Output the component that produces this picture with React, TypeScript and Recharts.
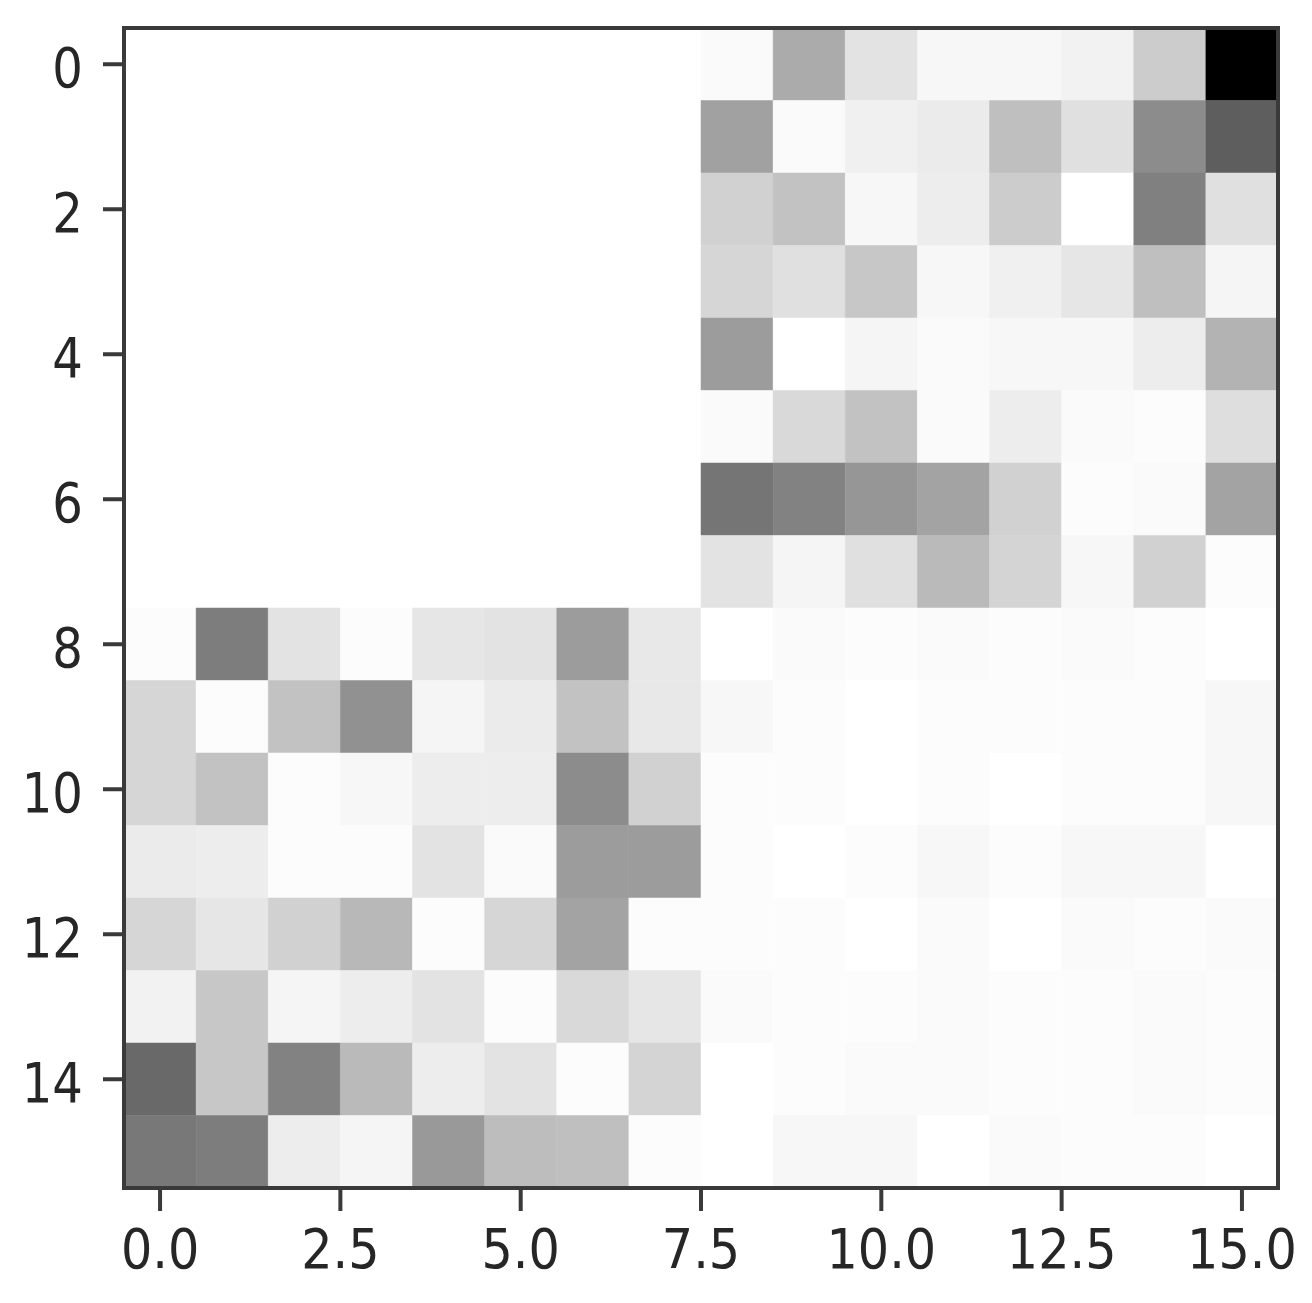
import React from 'react';
import { ScatterChart, Scatter, XAxis, YAxis, ReferenceArea } from 'recharts';

// Cell darkness (0 = white, 1 = black), rows 0..15, columns 0..15
const row00 = [0, 0, 0, 0, 0, 0, 0, 0, 0.02, 0.33, 0.11, 0.03, 0.03, 0.05, 0.2, 1.0];
const row01 = [0, 0, 0, 0, 0, 0, 0, 0, 0.37, 0.02, 0.06, 0.08, 0.25, 0.12, 0.45, 0.63];
const row02 = [0, 0, 0, 0, 0, 0, 0, 0, 0.18, 0.24, 0.03, 0.07, 0.2, 0.0, 0.5, 0.12];
const row03 = [0, 0, 0, 0, 0, 0, 0, 0, 0.16, 0.12, 0.22, 0.03, 0.06, 0.1, 0.25, 0.04];
const row04 = [0, 0, 0, 0, 0, 0, 0, 0, 0.39, 0.0, 0.04, 0.02, 0.03, 0.03, 0.07, 0.3];
const row05 = [0, 0, 0, 0, 0, 0, 0, 0, 0.02, 0.15, 0.24, 0.02, 0.07, 0.02, 0.01, 0.13];
const row06 = [0, 0, 0, 0, 0, 0, 0, 0, 0.54, 0.49, 0.41, 0.36, 0.18, 0.01, 0.02, 0.36];
const row07 = [0, 0, 0, 0, 0, 0, 0, 0, 0.11, 0.04, 0.12, 0.27, 0.17, 0.03, 0.18, 0.01];
const row08 = [0.01, 0.51, 0.11, 0.01, 0.1, 0.11, 0.39, 0.09, 0, 0.02, 0.01, 0.02, 0.01, 0.02, 0.01, 0];
const row09 = [0.16, 0.01, 0.24, 0.43, 0.04, 0.08, 0.24, 0.09, 0.03, 0.01, 0, 0.01, 0.01, 0.01, 0.01, 0.03];
const row10 = [0.16, 0.24, 0.01, 0.03, 0.07, 0.07, 0.45, 0.18, 0.01, 0.01, 0, 0.01, 0, 0.01, 0.01, 0.03];
const row11 = [0.08, 0.07, 0.01, 0.01, 0.11, 0.02, 0.39, 0.39, 0.01, 0, 0.01, 0.03, 0.01, 0.03, 0.03, 0];
const row12 = [0.16, 0.1, 0.18, 0.28, 0.01, 0.16, 0.36, 0.01, 0.01, 0.01, 0, 0.02, 0, 0.02, 0.01, 0.02];
const row13 = [0.05, 0.22, 0.04, 0.07, 0.11, 0.01, 0.15, 0.1, 0.02, 0.01, 0.01, 0.02, 0.01, 0.01, 0.02, 0.01];
const row14 = [0.59, 0.22, 0.49, 0.27, 0.07, 0.11, 0.01, 0.17, 0, 0.01, 0.02, 0.02, 0.01, 0.01, 0.02, 0.01];
const row15 = [0.53, 0.51, 0.07, 0.04, 0.4, 0.26, 0.25, 0.01, 0, 0.03, 0.03, 0, 0.02, 0.01, 0.01, 0];

const matrix = [row00, row01, row02, row03, row04, row05, row06, row07, row08, row09, row10, row11, row12, row13, row14, row15];

const xTicks = [0, 2.5, 5, 7.5, 10, 12.5, 15];
const yTicks = [0, 2, 4, 6, 8, 10, 12, 14];
const domain: [number, number] = [-0.5, 15.5];

const cells = matrix.flatMap((row, r) => row.map((v, c) => ({ x: c, y: r, v })));

const grayOf = (v: number) => {
  const g = Math.round(255 * (1 - v));
  return `rgb(${g},${g},${g})`;
};

const FONT = "'DejaVu Sans', sans-serif";
const TEXT = '#262626';
const LINE = '#3a3a3a';

const XTick = (props: any) => {
  const { x, y, payload } = props;
  return (
    <g transform={`translate(${x},${y})`}>
      <text transform="scale(0.88,1)" textAnchor="middle" dy="0.71em" fontSize={56} fontFamily={FONT} fill={TEXT}>
        {Number(payload.value).toFixed(1)}
      </text>
    </g>
  );
};

const YTick = (props: any) => {
  const { x, y, payload } = props;
  return (
    <g transform={`translate(${x},${y})`}>
      <text transform="scale(0.86,1)" textAnchor="end" dy="0.4em" fontSize={56} fontFamily={FONT} fill={TEXT}>
        {String(payload.value)}
      </text>
    </g>
  );
};

export default function App() {
  return (
    <div style={{ position: 'absolute', left: 0, top: 0, background: '#fff' }}>
      <ScatterChart width={1312} height={1303} margin={{ top: 28, right: 34, bottom: 0, left: 0 }}>
        <XAxis
          type="number"
          dataKey="x"
          domain={domain}
          allowDataOverflow
          ticks={xTicks}
          interval={0}
          height={115}
          tickSize={23}
          tickMargin={17}
          axisLine={false}
          tickLine={{ stroke: LINE, strokeWidth: 4 }}
          tick={<XTick />}
        />
        <YAxis
          type="number"
          dataKey="y"
          domain={domain}
          allowDataOverflow
          reversed
          ticks={yTicks}
          interval={0}
          width={124}
          tickSize={21}
          tickMargin={20}
          axisLine={false}
          tickLine={{ stroke: LINE, strokeWidth: 4 }}
          tick={<YTick />}
        />
        {cells.map((d) => (
          <ReferenceArea
            key={`c-${d.y}-${d.x}`}
            x1={d.x - 0.5}
            x2={d.x + 0.5}
            y1={d.y - 0.5}
            y2={d.y + 0.5}
            fill={grayOf(d.v)}
            fillOpacity={1}
            stroke={grayOf(d.v)}
            strokeWidth={0.5}
          />
        ))}
        <ReferenceArea x1={-0.5} x2={15.5} y1={-0.5} y2={15.5} fill="none" stroke={LINE} strokeWidth={4} />
        <Scatter data={cells} isAnimationActive={false} shape={() => <g />} />
      </ScatterChart>
    </div>
  );
}
